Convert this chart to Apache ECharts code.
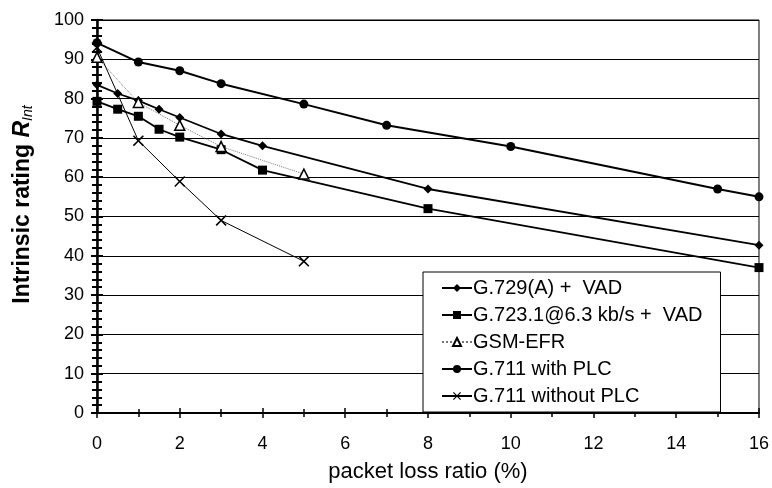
<!DOCTYPE html>
<html>
<head>
<meta charset="utf-8">
<script src="https://cdn.jsdelivr.net/npm/echarts@6/dist/echarts.min.js"></script>
<style>
  html, body { margin: 0; padding: 0; background: #fff; }
  #chart { width: 772px; height: 488px; }
</style>
</head>
<body>
<div id="chart"></div>
<script>
// values
const g729x = [0, 0.5, 1, 1.5, 2, 3, 4, 8, 16]
const g729y = [83.5, 81.3, 79.5, 77.3, 75.2, 71, 68, 57, 42.7]
const g723x = [0, 0.5, 1, 1.5, 2, 3, 4, 8, 16]
const g723y = [79.3, 77.3, 75.5, 72.2, 70.2, 67, 61.8, 52, 37]
const gsmx = [0, 1, 2, 3, 5]
const gsmy = [90.5, 79, 73.2, 67.8, 60.8]
const plcx = [0, 1, 2, 3, 5, 7, 10, 15, 16]
const plcy = [94.2, 89.3, 87.1, 83.8, 78.6, 73.2, 67.8, 57, 55]
const noplcx = [0, 1, 2, 3, 5]
const noplcy = [93, 69.3, 58.9, 49, 38.6]

const seriesNames = ['G.729(A) +  VAD', 'G.723.1@6.3 kb/s +  VAD', 'GSM-EFR', 'G.711 with PLC', 'G.711 without PLC']

const zip = (xs, ys) => xs.map((x, i) => [x, ys[i]])
const crossSymbol = 'path://M0,1L1,0L5,4L9,0L10,1L6,5L10,9L9,10L5,6L1,10L0,9L4,5Z'
const font = 'Liberation Sans, Arial, sans-serif'

const chart = echarts.init(document.getElementById('chart'))

const yBase = { type: 'value', min: 0, max: 100, interval: 10, minorTick: { show: true, splitNumber: 5 } }
const xBase = { type: 'value', min: 0, max: 16, interval: 2, minorTick: { show: true, splitNumber: 2 } }

chart.setOption({
  animation: false,
  grid: { left: 97, right: 5, top: 20, bottom: 72, show: true, borderColor: '#000', borderWidth: 1 },
  xAxis: [
    Object.assign({}, xBase, {
      name: 'packet loss ratio (%)',
      nameLocation: 'middle',
      nameGap: 48,
      nameTextStyle: { color: '#000', fontSize: 22, fontFamily: font },
      axisLine: { lineStyle: { color: '#000', width: 2 } },
      axisTick: { length: 5, lineStyle: { color: '#000', width: 1.5 } },
      minorTick: { show: true, splitNumber: 2, length: 4, lineStyle: { color: '#000', width: 1.5 } },
      axisLabel: { color: '#000', fontSize: 18, fontFamily: font, margin: 22 },
      splitLine: { show: false }
    }),
    Object.assign({}, xBase, {
      position: 'bottom',
      axisLine: { show: false },
      axisTick: { inside: true, length: 5, lineStyle: { color: '#000', width: 1.5 } },
      minorTick: { show: true, splitNumber: 2, length: 4, lineStyle: { color: '#000', width: 1.5 } },
      axisLabel: { show: false },
      splitLine: { show: false }
    })
  ],
  yAxis: [
    Object.assign({}, yBase, {
      name: '{b|Intrinsic rating }{i|R}{s|Int}',
      nameLocation: 'middle',
      nameGap: 62,
      nameTextStyle: {
        color: '#000', fontFamily: font, padding: [0, 0, 0, 24],
        rich: {
          b: { fontSize: 23, fontWeight: 'bold', fontFamily: font, color: '#000' },
          i: { fontSize: 23, fontWeight: 'bold', fontStyle: 'italic', fontFamily: font, color: '#000' },
          s: { fontSize: 14, fontStyle: 'italic', fontFamily: font, color: '#000', padding: [11, 0, 0, 0] }
        }
      },
      axisLine: { lineStyle: { color: '#000', width: 2.5 } },
      axisTick: { length: 6, lineStyle: { color: '#000', width: 2 } },
      minorTick: { show: true, splitNumber: 5, length: 5, lineStyle: { color: '#000', width: 2 } },
      axisLabel: { color: '#000', fontSize: 18, fontFamily: font, margin: 13 },
      splitLine: { lineStyle: { color: '#000', width: 1.2 } }
    }),
    Object.assign({}, yBase, {
      position: 'left',
      axisLine: { show: false },
      axisTick: { inside: true, length: 6, lineStyle: { color: '#000', width: 2 } },
      minorTick: { show: true, splitNumber: 5, length: 5, lineStyle: { color: '#000', width: 2 } },
      axisLabel: { show: false },
      splitLine: { show: false }
    })
  ],
  legend: {
    orient: 'vertical',
    left: 423,
    top: 272,
    width: 300,
    padding: [6, 18, 6, 18],
    itemGap: 7,
    itemWidth: 30,
    itemHeight: 10,
    backgroundColor: '#fff',
    borderColor: '#000',
    borderWidth: 1,
    textStyle: { color: '#000', fontSize: 20, fontFamily: font, padding: [0, 0, 0, -4] },
    data: seriesNames
  },
  series: [
    {
      name: seriesNames[0], type: 'line', data: zip(g729x, g729y),
      symbol: 'diamond', symbolSize: 9,
      lineStyle: { color: '#000', width: 1.8 }, itemStyle: { color: '#000' }
    },
    {
      name: seriesNames[1], type: 'line', data: zip(g723x, g723y),
      symbol: 'rect', symbolSize: 9,
      lineStyle: { color: '#000', width: 1.8 }, itemStyle: { color: '#000' }
    },
    {
      name: seriesNames[2], type: 'line', data: zip(gsmx, gsmy),
      symbol: 'triangle', symbolSize: 10,
      lineStyle: { color: '#777', width: 1, type: 'dotted' },
      itemStyle: { color: '#fff', borderColor: '#000', borderWidth: 1.5 }
    },
    {
      name: seriesNames[3], type: 'line', data: zip(plcx, plcy),
      symbol: 'circle', symbolSize: 9,
      lineStyle: { color: '#000', width: 2 }, itemStyle: { color: '#000' }
    },
    {
      name: seriesNames[4], type: 'line', data: zip(noplcx, noplcy),
      symbol: crossSymbol, symbolSize: 11,
      lineStyle: { color: '#000', width: 1 }, itemStyle: { color: '#000' }
    }
  ]
})
</script>
</body>
</html>
